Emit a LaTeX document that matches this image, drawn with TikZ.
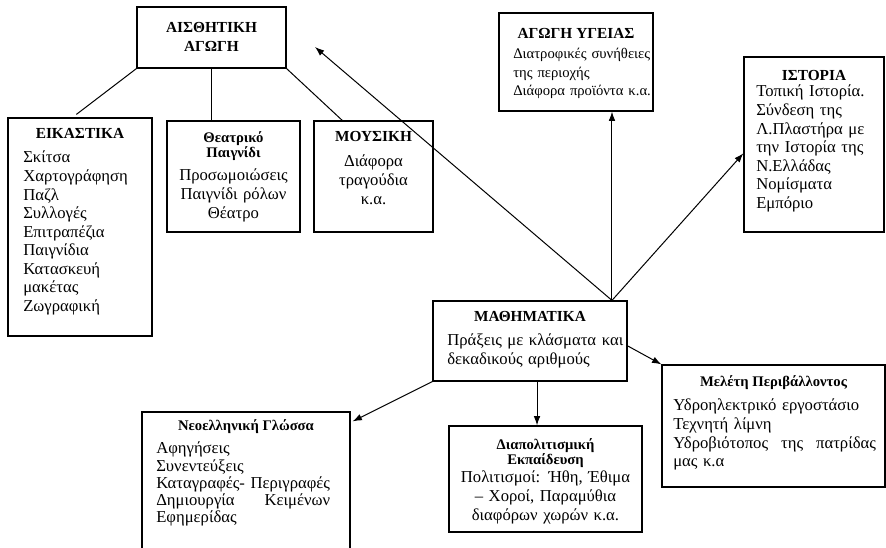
\documentclass[tikz,border=0pt]{standalone}
\usepackage{fontspec}
\setmainfont{Liberation Serif}
\usetikzlibrary{arrows.meta,fit,calc}
\begin{document}
\begin{tikzpicture}[x=0.75pt,y=-0.75pt,
 box/.style={draw, line width=0.9pt, inner sep=0pt},
 ttl/.style={font=\fontsize{11.5}{14}\selectfont\bfseries, inner sep=0pt, align=center},
 sttl/.style={font=\fontsize{11}{11.5}\selectfont\bfseries, inner sep=0pt, align=center},
 bodyl/.style={font=\fontsize{12.5}{13.9}\selectfont, inner sep=0pt, text width=#1, align=left, anchor=base west},
 bodyc/.style={font=\fontsize{12.5}{13.9}\selectfont, inner sep=0pt, text width=#1, align=center, anchor=base},
 conn/.style={line width=0.75pt},
 arr/.style={conn, -{Latex[length=7pt,width=5pt]}}
]
\useasboundingbox (0,0) rectangle (886,548);
\clip (0,0) rectangle (886,548);

% boxes
\node[box, fit={(137,7) (286,68)}] (aes) {};
\node[box, fit={(8,118) (152,336)}] (eik) {};
\node[box, fit={(167,121) (300,232)}] (the) {};
\node[box, fit={(314,121) (433,232)}] (mou) {};
\node[box, fit={(499,13) (653,111)}] (ayg) {};
\node[box, fit={(744,57) (884,232)}] (ist) {};
\node[box, fit={(433,301) (627,381)}] (mat) {};
\node[box, fit={(662,365) (885,487)}] (mel) {};
\node[box, fit={(142,412) (350,570)}] (neo) {};
\node[box, fit={(449,426) (642,532)}] (dia) {};

% texts
\node[ttl] (aesT) at (211.5,37) {ΑΙΣΘΗΤΙΚΗ\\ΑΓΩΓΗ};

\node[ttl] (eikT) at (80,133) {ΕΙΚΑΣΤΙΚΑ};
\node[bodyl=125pt] (eikB) at (23,163) {Σκίτσα\\Χαρτογράφηση\\Παζλ\\Συλλογές\\Επιτραπέζια\\Παιγνίδια\\Κατασκευή\\μακέτας\\Ζωγραφική};

\node[sttl] (theT) at (233.5,146) {Θεατρικό\\Παιγνίδι};
\node[bodyc=100pt] (theB) at (233.5,181) {Προσωμοιώσεις\\Παιγνίδι ρόλων\\Θέατρο};

\node[ttl] (mouT) at (373.5,137) {ΜΟΥΣΙΚΗ};
\node[bodyc=85pt] (mouB) at (373.5,167) {Διάφορα\\τραγούδια\\κ.α.};

\node[ttl] (aygT) at (576,33) {ΑΓΩΓΗ ΥΓΕΙΑΣ};
\node[bodyl=140pt, font=\fontsize{11}{13.6}\selectfont] (aygB) at (513,59) {Διατροφικές συνήθειες\\της περιοχής\\Διάφορα προϊόντα κ.α.};

\node[ttl] (istT) at (814,76) {ΙΣΤΟΡΙΑ};
\node[bodyl=100pt] (istB) at (756,97) {Τοπική Ιστορία.\\Σύνδεση της\\Λ.Πλαστήρα με\\την Ιστορία της\\Ν.Ελλάδας\\Νομίσματα\\Εμπόριο};

\node[ttl] (matT) at (530,317) {ΜΑΘΗΜΑΤΙΚΑ};
\node[bodyl=140pt] (matB) at (447,346) {Πράξεις με κλάσματα και\\δεκαδικούς αριθμούς};

\node[sttl] (melT) at (773.5,383) {Μελέτη Περιβάλλοντος};
\node[bodyl=160pt] (melB) at (673,411) {Υδροηλεκτρικό εργοστάσιο\\Τεχνητή λίμνη\\\leavevmode\hbox to 152pt{Υδροβιότοπος\hfill της\hfill πατρίδας}\\μας κ.α};

\node[sttl] (neoT) at (246,427) {Νεοελληνική Γλώσσα};
\node[bodyl=150pt, font=\fontsize{12.5}{12.9}\selectfont] (neoB) at (156,454) {Αφηγήσεις\\Συνεντεύξεις\\Καταγραφές- Περιγραφές\\\setbox0\hbox{Καταγραφές- Περιγραφές}\leavevmode\hbox to \wd0{Δημιουργία\hfill Κειμένων}\\Εφημερίδας};

\node[sttl] (diaT) at (545.5,453) {Διαπολιτισμική\\Εκπαίδευση};
\node[bodyc=140pt] (diaB) at (545.5,483) {Πολιτισμοί: Ήθη, Έθιμα\\– Χοροί, Παραμύθια\\διαφόρων χωρών κ.α.};

% connector points
\coordinate (mt) at ($(mat.north west)!0.92!(mat.north east)$);
\coordinate (aesTip) at (315,47);
\coordinate (eikEnd) at ($(eik.north west)+(69,-3)$);
\coordinate (aesM) at ($(aes.south)+(-0.5,0)$);
\coordinate (md) at ($(mat.south west)!0.536!(mat.south east)$);

% lines from aesthetic box
\draw[conn] (aes.south west) -- (eikEnd);
\draw[conn] (aesM) -- (aesM |- the.north);
\draw[conn] (aes.south east) -- ($(mou.north west)!0.24!(mou.north east)$);

% arrows from mathematics
\draw[arr] (mt) -- (aesTip);
\draw[arr] (mt) -- (mt |- ayg.south);
\draw[arr] (mt) -- ($(ist.north west)!0.55!(ist.south west)$);
\draw[arr] ($(mat.north east)!0.56!(mat.south east)$) -- (mel.north west);
\draw[arr] (md) -- (md |- dia.north);
\draw[arr] (mat.south west) -- ($(neo.north east)+(2,10)$);
\end{tikzpicture}
\end{document}
